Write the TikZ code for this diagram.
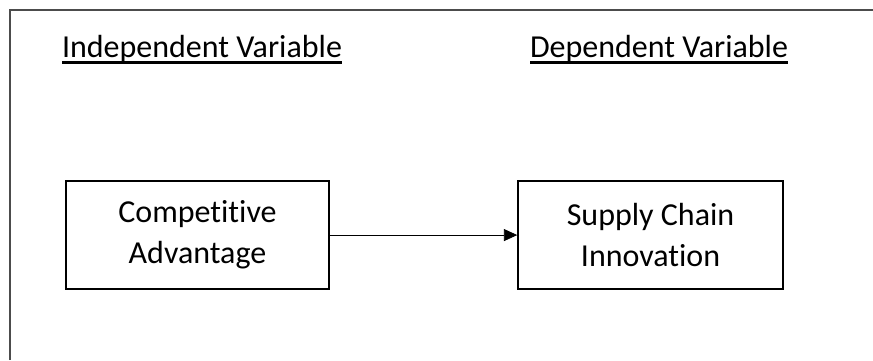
\documentclass[tikz,border=0pt]{standalone}
\usepackage{fontspec}
\setmainfont{Carlito}[Ligatures=NoCommon]
\usetikzlibrary{arrows.meta}
\newcommand{\ulvar}[1]{\setbox0\hbox{#1}\rlap{\rule[-4.3pt]{\wd0}{1.7pt}}\box0}

\begin{document}
\begin{tikzpicture}
[every node/.style={inner sep=0pt}, varbox/.style={rectangle, minimum width=197.5pt, minimum height=81pt, line width=1.2pt, draw=black, align=center, font=\fontsize{24}{31}\selectfont}, heading/.style={anchor=base, font=\fontsize{24}{28}\selectfont}]
\useasboundingbox (0pt, 0pt) rectangle (654.75pt, -270pt);
\draw [line width=0.8pt, color=black!70] (7.5pt, -270pt) -- (7.5pt, -7.5pt) -- (654.75pt, -7.5pt);
\node (iv) [heading] at (151.5pt, -43.5pt) {\ulvar{Independent Variable}};
\node (dv) [heading] at (494.25pt, -43.5pt) {\ulvar{Dependent Variable}};
\node (ca) [varbox] at (148.1pt, -176.3pt) {Competitive\\Advantage};
\node (sci) [varbox, minimum width=198.75pt] at (487.9pt, -176.3pt) {Supply Chain\\Innovation};
\draw [line width=0.6pt, -{Triangle[length=10pt, width=9pt]}, color=black] (ca) to (sci);
\end{tikzpicture}
\end{document}
